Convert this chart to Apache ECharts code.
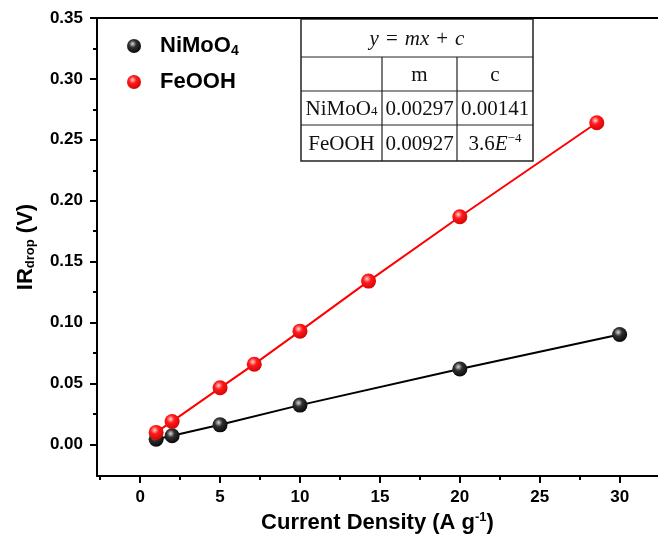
<!DOCTYPE html>
<html>
<head>
<meta charset="utf-8">
<script src="https://cdn.jsdelivr.net/npm/echarts@6/dist/echarts.min.js"></script>
<style>
  html, body { margin: 0; padding: 0; background: #fff; }
  #chart { width: 658px; height: 554px; }
</style>
</head>
<body>
<div id="chart"></div>
<script>
// data
var niX = [1, 2, 5, 10, 20, 30];
var niY = [0.0042, 0.0070, 0.0160, 0.0322, 0.0618, 0.0902];
var feX = [1, 2, 5, 7.14, 10, 14.29, 20, 28.57];
var feY = [0.0098, 0.0188, 0.0464, 0.0658, 0.0929, 0.1340, 0.1868, 0.2640];

var xMajor = [0, 5, 10, 15, 20, 25, 30];
var xMinor = [-2.5, 2.5, 7.5, 12.5, 17.5, 22.5, 27.5];
var yMajor = [0, 0.05, 0.10, 0.15, 0.20, 0.25, 0.30, 0.35];
var yMinor = [0.025, 0.075, 0.125, 0.175, 0.225, 0.275, 0.325];

// fit table
var fitRows = ['NiMoO4', 'FeOOH'];
var fitM = ['0.00297', '0.00927'];
var fitC = ['0.00141', '3.6E-4'];

var dom = document.getElementById('chart');
var myChart = echarts.init(dom);

function sphere(light, mid, dark) {
    return {
        type: 'radial', x: 0.4, y: 0.35, r: 0.75,
        colorStops: [
            {offset: 0, color: light},
            {offset: 0.35, color: mid},
            {offset: 1, color: dark}
        ]
    };
}

function pairs(xs, ys) {
    return xs.map(function (x, i) { return [x, ys[i]]; });
}

var XMIN = -2.7, XMAX = 32.4, YMIN = -0.026, YMAX = 0.35;
var axisBlack = {color: '#000', width: 2};
var tickFont = {fontFamily: 'Liberation Sans, Arial', fontWeight: 'bold', fontSize: 17, color: '#000'};
var serif = 'Liberation Serif, Times New Roman, serif';

// table drawn with graphic elements
var tL = 301, tR = 533, tT = 19, tB = 161;
var colX = [tL, 382, 457, tR];
var rowY = [tT, 57, 91, 125, tB];
var tableEls = [];
tableEls.push({type: 'rect', shape: {x: tL, y: tT, width: tR - tL, height: tB - tT},
    style: {fill: '#fff', stroke: '#222', lineWidth: 1.5}});
for (var r = 1; r < 4; r++) {
    tableEls.push({type: 'line', shape: {x1: tL, y1: rowY[r], x2: tR, y2: rowY[r]},
        style: {stroke: '#222', lineWidth: 1.2}});
}
for (var c = 1; c < 3; c++) {
    tableEls.push({type: 'line', shape: {x1: colX[c], y1: rowY[1], x2: colX[c], y2: tB},
        style: {stroke: '#222', lineWidth: 1.2}});
}
function cellText(txt, col, row, rich) {
    var cx = (colX[col] + colX[col + 1]) / 2;
    var cy = (rowY[row] + rowY[row + 1]) / 2;
    return {type: 'text', x: cx, y: cy + 1,
        style: {text: txt, align: 'center', verticalAlign: 'middle',
            font: '21px ' + serif, fill: '#111', rich: rich}};
}
var mathRich = {
    i: {fontFamily: serif, fontStyle: 'italic', fontSize: 21, fill: '#111'},
    n: {fontFamily: serif, fontSize: 21, fill: '#111'},
    op: {fontFamily: serif, fontSize: 21, fill: '#111', padding: [0, 7, 0, 7]},
    sm: {fontFamily: serif, fontSize: 13, fill: '#111', padding: [6, 0, 0, 0]},
    sup: {fontFamily: serif, fontSize: 13, fill: '#111', padding: [0, 0, 10, 0]}
};
tableEls.push({type: 'text', x: (tL + tR) / 2, y: (rowY[0] + rowY[1]) / 2 + 1,
    style: {text: '{i|y}{op|=}{i|mx}{op|+}{i|c}', align: 'center', verticalAlign: 'middle',
        rich: mathRich}});
tableEls.push(cellText('m', 1, 1));
tableEls.push(cellText('c', 2, 1));
tableEls.push(cellText('{n|NiMoO}{sm|4}', 0, 2, mathRich));
tableEls.push(cellText(fitRows[1], 0, 3));
tableEls.push(cellText(fitM[0], 1, 2));
tableEls.push(cellText(fitC[0], 2, 2));
tableEls.push(cellText(fitM[1], 1, 3));
tableEls.push(cellText('{n|3.6}{i|E}{sup|−4}', 2, 3, mathRich));

option = {
    animation: false,
    backgroundColor: '#fff',
    grid: {left: 97, top: 18, right: -4, bottom: 78},
    legend: {
        orient: 'vertical',
        left: 127,
        top: 35,
        padding: 0,
        itemWidth: 14,
        itemHeight: 14,
        itemGap: 13,
        icon: 'circle',
        data: ['NiMoO4', 'FeOOH'],
        formatter: function (name) {
            return name === 'NiMoO4' ? '{b|NiMoO}{s|4}' : '{b|FeOOH}';
        },
        textStyle: {
            padding: [0, 0, 0, 14],
            rich: {
                b: {fontFamily: 'Liberation Sans, Arial', fontWeight: 'bold', fontSize: 22, color: '#000'},
                s: {fontFamily: 'Liberation Sans, Arial', fontWeight: 'bold', fontSize: 14, color: '#000', padding: [10, 0, 0, 0]}
            }
        }
    },
    xAxis: [
        {
            type: 'value', min: XMIN, max: XMAX, position: 'bottom',
            axisLine: {show: true, onZero: false, lineStyle: axisBlack},
            axisTick: {show: true, customValues: xMajor, length: 7, lineStyle: axisBlack},
            axisLabel: Object.assign({customValues: xMajor, margin: 13}, tickFont),
            splitLine: {show: false},
            name: '{b|Current Density (A g}{s|-1}{b|)}',
            nameLocation: 'middle',
            nameGap: 34,
            nameTextStyle: {
                rich: {
                    b: {fontFamily: 'Liberation Sans, Arial', fontWeight: 'bold', fontSize: 22, color: '#000'},
                    s: {fontFamily: 'Liberation Sans, Arial', fontWeight: 'bold', fontSize: 13, color: '#000', padding: [0, 0, 12, 0]}
                }
            }
        },
        {
            type: 'value', min: XMIN, max: XMAX, position: 'bottom',
            axisLine: {show: false, onZero: false},
            axisTick: {show: true, customValues: xMinor, length: 4, lineStyle: axisBlack},
            axisLabel: {show: false},
            splitLine: {show: false}
        },
        {
            type: 'value', min: XMIN, max: XMAX, position: 'top',
            axisLine: {show: true, onZero: false, lineStyle: axisBlack},
            axisTick: {show: false},
            axisLabel: {show: false},
            splitLine: {show: false}
        }
    ],
    yAxis: [
        {
            type: 'value', min: YMIN, max: YMAX, position: 'left',
            axisLine: {show: true, onZero: false, lineStyle: axisBlack},
            axisTick: {show: true, customValues: yMajor, length: 7, lineStyle: axisBlack},
            axisLabel: Object.assign({
                customValues: yMajor, margin: 14,
                formatter: function (v) { return v.toFixed(2); }
            }, tickFont),
            splitLine: {show: false},
            name: '{b|IR}{s|drop}{b| (V)}',
            nameLocation: 'middle',
            nameRotate: 90,
            nameGap: 60,
            nameTextStyle: {
                rich: {
                    b: {fontFamily: 'Liberation Sans, Arial', fontWeight: 'bold', fontSize: 22, color: '#000'},
                    s: {fontFamily: 'Liberation Sans, Arial', fontWeight: 'bold', fontSize: 13, color: '#000', padding: [10, 0, 0, 0]}
                }
            }
        },
        {
            type: 'value', min: YMIN, max: YMAX, position: 'left',
            axisLine: {show: false, onZero: false},
            axisTick: {show: true, customValues: yMinor, length: 4, lineStyle: axisBlack},
            axisLabel: {show: false},
            splitLine: {show: false}
        }
    ],
    series: [
        {
            name: 'NiMoO4',
            type: 'line',
            xAxisIndex: 0, yAxisIndex: 0,
            data: pairs(niX, niY),
            symbol: 'circle',
            symbolSize: 15,
            lineStyle: {color: '#000', width: 2},
            itemStyle: {color: sphere('#d8d8d8', '#303030', '#000')},
            z: 3
        },
        {
            name: 'FeOOH',
            type: 'line',
            xAxisIndex: 0, yAxisIndex: 0,
            data: pairs(feX, feY),
            symbol: 'circle',
            symbolSize: 15,
            lineStyle: {color: '#ff0000', width: 2},
            itemStyle: {color: sphere('#ffd0d0', '#ff1a1a', '#cc0000')},
            z: 4
        }
    ],
    graphic: tableEls
};

if (option && typeof option === "object") {
    myChart.setOption(option, true);
}
</script>
</body>
</html>
